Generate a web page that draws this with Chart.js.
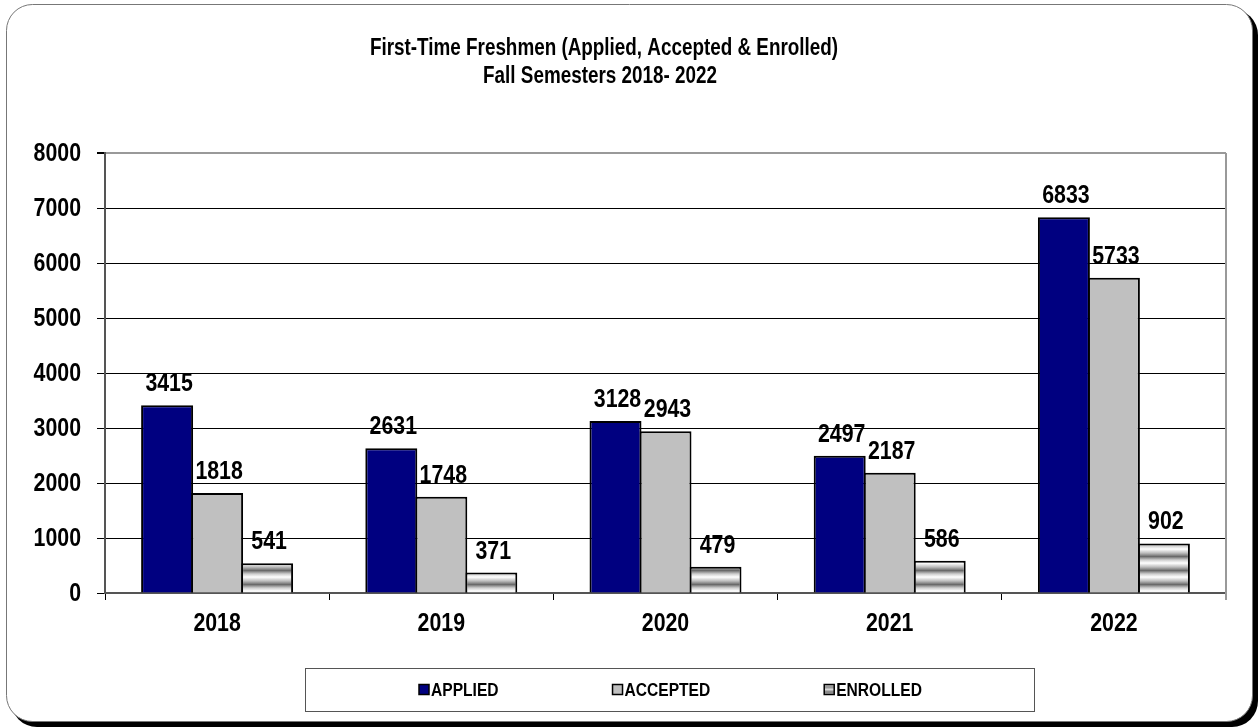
<!DOCTYPE html>
<html><head><meta charset="utf-8">
<script src="https://cdn.jsdelivr.net/npm/chart.js@4.4.0/dist/chart.umd.min.js"></script>
<style>html,body{margin:0;padding:0;background:#fff;overflow:hidden}canvas{display:block}</style>
</head><body><canvas id="c" width="1259" height="727"></canvas>
<script>
const categories = ['2018', '2019', '2020', '2021', '2022'];
const applied = [3415, 2631, 3128, 2497, 6833];
const accepted = [1818, 1748, 2943, 2187, 5733];
const enrolled = [541, 371, 479, 586, 902];
const seriesNames = ['APPLIED', 'ACCEPTED', 'ENROLLED'];
const titleLines = ['First-Time Freshmen (Applied, Accepted & Enrolled)', 'Fall Semesters 2018- 2022'];
const yMin = 0, yMax = 8000, yStep = 1000;

// Arial Narrow look: Liberation Sans (Arial metrics) compressed horizontally
const FONT = "'Liberation Sans', Arial, sans-serif";
const NARROW = 0.82;

const canvas = document.getElementById('c');
const ctx0 = canvas.getContext('2d');

function stripePattern(c) {
  const p = document.createElement('canvas');
  p.width = 8; p.height = 14;
  const g = p.getContext('2d');
  const gr = g.createLinearGradient(0, 0, 0, 14);
  gr.addColorStop(0, '#d0d0d0');
  gr.addColorStop(0.22, '#ffffff');
  gr.addColorStop(0.5, '#bdbdbd');
  gr.addColorStop(0.75, '#6a6a6a');
  gr.addColorStop(1, '#d0d0d0');
  g.fillStyle = gr; g.fillRect(0, 0, 8, 14);
  return c.createPattern(p, 'repeat');
}
const stripes = stripePattern(ctx0);
const colors = ['#000080', '#C0C0C0', stripes];

function narrowText(c, text, x, y, size, align, baseline) {
  c.save();
  c.font = 'bold ' + size + 'px ' + FONT;
  c.textAlign = align;
  c.textBaseline = baseline;
  c.translate(x, y);
  c.scale(NARROW, 1);
  c.fillStyle = '#000';
  c.fillText(text, 0, 0);
  c.restore();
}
function narrowWidth(c, text, size) {
  c.save();
  c.font = 'bold ' + size + 'px ' + FONT;
  const w = c.measureText(text).width * NARROW;
  c.restore();
  return w;
}

function roundRect(c, x, y, w, h, r) {
  c.beginPath();
  c.moveTo(x + r, y);
  c.lineTo(x + w - r, y);
  c.arcTo(x + w, y, x + w, y + r, r);
  c.lineTo(x + w, y + h - r);
  c.arcTo(x + w, y + h, x + w - r, y + h, r);
  c.lineTo(x + r, y + h);
  c.arcTo(x, y + h, x, y + h - r, r);
  c.lineTo(x, y + r);
  c.arcTo(x, y, x + r, y, r);
  c.closePath();
}

const framePlugin = {
  id: 'frame',
  beforeDraw(chart) {
    const c = chart.ctx;
    c.save();
    c.fillStyle = '#fff';
    c.fillRect(0, 0, chart.width, chart.height);
    c.fillStyle = '#000';
    roundRect(c, 11, 9, 1247, 718, 26);
    c.fill();
    c.fillStyle = '#fff';
    roundRect(c, 6.5, 4.5, 1246, 717, 26);
    c.fill();
    c.strokeStyle = '#777';
    c.lineWidth = 1;
    c.stroke();
    c.restore();
  },
  beforeDatasetsDraw(chart) {
    const c = chart.ctx, a = chart.chartArea;
    c.save();
    c.strokeStyle = '#999';
    c.lineWidth = 2;
    c.beginPath();
    c.moveTo(a.right, a.top);
    c.lineTo(a.right, a.bottom + 7);
    c.stroke();
    c.restore();
  },
  afterDraw(chart) {
    const c = chart.ctx;
    // title
    narrowText(c, titleLines[0], 604, 49, 23, 'center', 'middle');
    narrowText(c, titleLines[1], 600, 77, 23, 'center', 'middle');

    // axis tick labels from the library's scales
    const ys = chart.scales.y, xs = chart.scales.x;
    ys.ticks.forEach(t => {
      narrowText(c, String(t.value), ys.right - 24, ys.getPixelForValue(t.value) + 1, 26, 'right', 'middle');
    });
    chart.data.labels.forEach((lab, i) => {
      narrowText(c, lab, xs.getPixelForTick(i), 624, 26, 'center', 'middle');
    });

    // legend
    c.save();
    const bx = 305, by = 668, bw = 729, bh = 43;
    c.strokeStyle = '#555';
    c.lineWidth = 1;
    c.strokeRect(bx + 0.5, by + 0.5, bw, bh);
    const gap = 114, box = 10, tgap = 2, fs = 19;
    const widths = chart.data.datasets.map(ds => box + tgap + narrowWidth(c, ds.label, fs));
    const total = widths.reduce((s, w) => s + w, 0) + gap * (widths.length - 1);
    let x = Math.round(bx + bw / 2 - total / 2 + 1);
    const cy = by + bh / 2;
    chart.data.datasets.forEach((ds, i) => {
      const top = cy - box / 2;
      if (typeof ds.backgroundColor === 'string') {
        c.fillStyle = ds.backgroundColor;
      } else {
        const g = c.createLinearGradient(0, top, 0, top + box);
        g.addColorStop(0, '#e0e0e0');
        g.addColorStop(0.25, '#8a8a8a');
        g.addColorStop(0.5, '#d8d8d8');
        g.addColorStop(0.75, '#7a7a7a');
        g.addColorStop(1, '#c8c8c8');
        c.fillStyle = g;
      }
      c.fillRect(x, top, box, box);
      c.strokeStyle = '#000';
      c.lineWidth = 1.5;
      c.strokeRect(x, top, box, box);
      narrowText(c, ds.label, x + box + tgap, cy + 1, fs, 'left', 'middle');
      x += widths[i] + gap;
    });
    c.restore();
  }
};

const labelPlugin = {
  id: 'valueLabels',
  afterDatasetsDraw(chart) {
    const c = chart.ctx;
    chart.data.datasets.forEach((ds, i) => {
      const meta = chart.getDatasetMeta(i);
      meta.data.forEach((el, j) => {
        narrowText(c, String(ds.data[j]), el.x + 2, el.y - 14, 26, 'center', 'alphabetic');
      });
    });
  }
};

new Chart(canvas, {
  type: 'bar',
  data: {
    labels: categories,
    datasets: [
      { label: seriesNames[0], data: applied, backgroundColor: colors[0] },
      { label: seriesNames[1], data: accepted, backgroundColor: colors[1] },
      { label: seriesNames[2], data: enrolled, backgroundColor: colors[2] }
    ]
  },
  options: {
    responsive: false,
    animation: false,
    events: [],
    layout: { padding: { top: 153, right: 33, bottom: 0, left: 0 } },
    datasets: {
      bar: {
        borderColor: '#000',
        borderWidth: 2,
        borderSkipped: 'bottom',
        categoryPercentage: 0.669,
        barPercentage: 1.04
      }
    },
    plugins: { legend: { display: false }, title: { display: false }, tooltip: { enabled: false } },
    scales: {
      x: {
        grid: { offset: true, drawOnChartArea: false, drawTicks: true, tickLength: 7, color: '#000', lineWidth: 1 },
        border: { color: '#555', width: 2 },
        ticks: { display: false },
        afterFit(s) { s.height = 134; }
      },
      y: {
        min: yMin, max: yMax,
        grid: {
          color: (ctx) => ctx.tick && ctx.tick.value === yMax ? '#999' : '#000',
          lineWidth: (ctx) => ctx.tick && ctx.tick.value === yMax ? 2 : 1,
          tickColor: '#000',
          tickLength: 8
        },
        border: { color: '#555', width: 2 },
        ticks: { display: false, stepSize: yStep },
        afterFit(s) { s.width = 105; }
      }
    }
  },
  plugins: [framePlugin, labelPlugin]
});
</script>
</body></html>
